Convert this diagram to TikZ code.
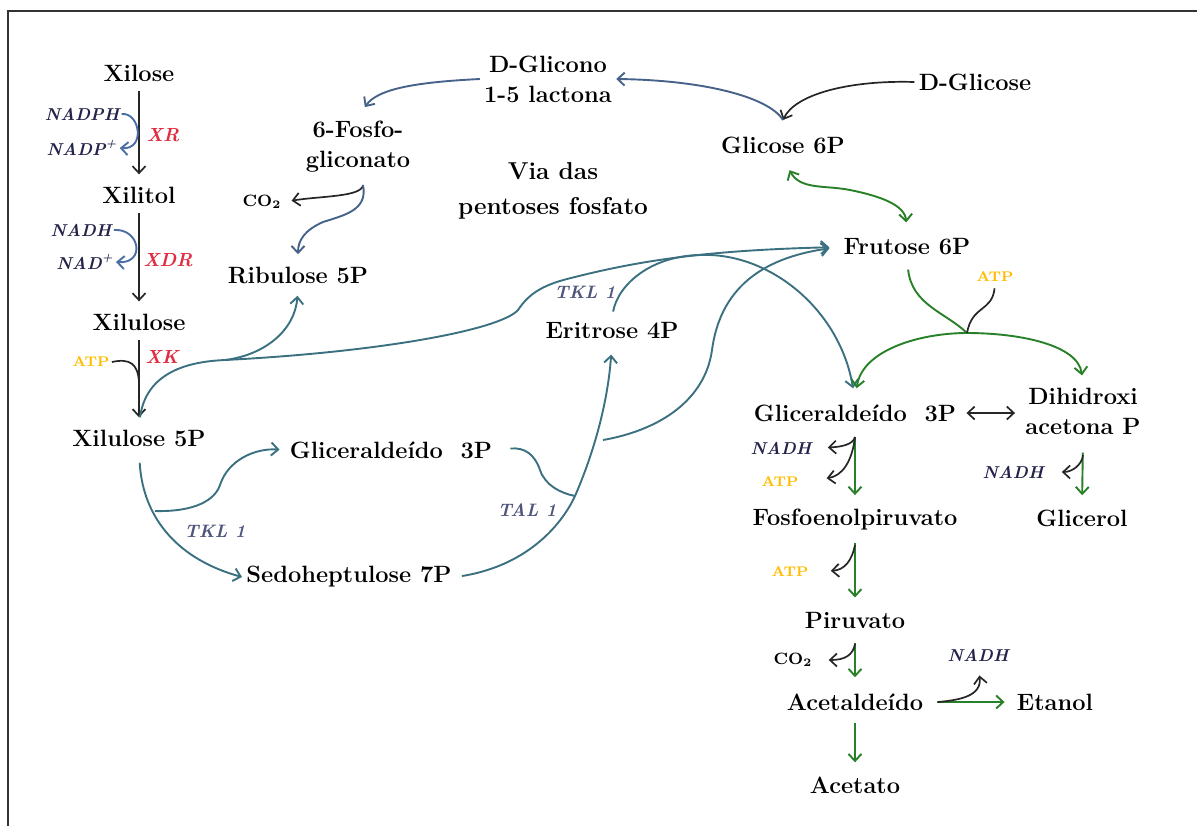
\documentclass[tikz,border=0pt]{standalone}
\usetikzlibrary{arrows.meta}
\definecolor{teal1}{RGB}{58,112,128}
\definecolor{blueg}{RGB}{70,98,138}
\definecolor{cofb}{RGB}{75,110,165}
\definecolor{grn}{RGB}{40,128,40}
\definecolor{redx}{RGB}{225,45,65}
\definecolor{atpc}{RGB}{255,188,0}
\definecolor{navy}{RGB}{35,35,75}
\definecolor{tkl}{RGB}{80,85,125}
\tikzset{
  m/.style={font=\fontsize{11.8}{15}\selectfont\bfseries, text=black, align=center, inner sep=2pt},
  cof/.style={font=\fontsize{8.6}{9}\selectfont\bfseries\itshape, text=navy, inner sep=1pt},
  enz/.style={font=\fontsize{9.5}{10}\selectfont\bfseries\itshape, text=redx, inner sep=1pt},
  atp/.style={font=\fontsize{7}{8}\selectfont\bfseries, text=atpc, inner sep=1pt},
  co/.style={font=\fontsize{8.2}{9}\selectfont\bfseries, text=black, inner sep=1pt},
  tk/.style={font=\fontsize{9}{10}\selectfont\bfseries\itshape, text=tkl, inner sep=1pt},
  bk/.style={draw=black!85, line width=0.85pt},
  tl/.style={draw=teal1, line width=0.95pt},
  bg/.style={draw=blueg, line width=0.95pt},
  cb/.style={draw=cofb, line width=0.95pt},
  gr/.style={draw=grn, line width=0.95pt},
  vv/.style={shorten <=2.5pt, shorten >=4pt},
  >={Straight Barb[length=3.5pt,width=6.5pt]}
}
\begin{document}
\begin{tikzpicture}[x=0.5pt,y=-0.5pt]
\useasboundingbox (0,0) rectangle (1197,826);
\draw[line width=1pt, black!80] (8,826) -- (8,11) -- (1197,11);

% main nodes
\node[m] (xilose) at (139,73) {Xilose};
\node[m] (xilitol) at (139,195) {Xilitol};
\node[m] (xilulose) at (139,322) {Xilulose};
\node[m] (x5p) at (139,438) {Xilulose 5P};
\node[m] (r5p) at (298,275) {Ribulose 5P};
\node[m] (fg) at (358,147) {6-Fosfo-\\gliconato};
\node[m] (dgl) at (548,79) {D-Glicono\\1-5 lactona};
\node[m] (dglc) at (975,82) {D-Glicose};
\node[m] (g6p) at (783,145) {Glicose 6P};
\node[m, font=\fontsize{12.2}{17.5}\selectfont\bfseries] (via) at (553,191) {Via das\\pentoses fosfato};
\node[m] (f6p) at (907,247) {Frutose 6P};
\node[m] (e4p) at (612,330) {Eritrose 4P};
\node[m] (g3pa) at (391,450) {Gliceraldeído~~3P};
\node[m] (s7p) at (349,577) {Sedoheptulose 7P};
\node[m] (g3p) at (855,413) {Gliceraldeído~~3P};
\node[m] (dhap) at (1083,411) {Dihidroxi\\acetona P};
\node[m] (pep) at (855,520) {Fosfoenolpiruvato};
\node[m] (pir) at (855,620) {Piruvato};
\node[m] (acal) at (855,702) {Acetaldeído};
\node[m] (etanol) at (1055,702) {Etanol};
\node[m] (acetato) at (855,785) {Acetato};
\node[m] (glicerol) at (1082,518) {Glicerol};

% small labels
\node[cof] (nadph) at (82,114) {NADPH};
\node[cof] (nadp) at (82,148) {NADP\textsuperscript{+}};
\node[enz] (xr) at (163,135) {XR};
\node[cof] (nadh1) at (81,230) {NADH};
\node[cof] (nad1) at (85,262) {NAD\textsuperscript{+}};
\node[enz] (xdr) at (168,260) {XDR};
\node[atp] (atp1) at (91,362) {ATP};
\node[enz] (xk) at (162,357) {XK};
\node[co] (co2a) at (262,202) {CO\textsubscript{2}};
\node[tk] (tkl1) at (585,292) {TKL 1};
\node[tk] (tkl2) at (215,531) {TKL 1};
\node[tk] (tal1) at (527,510) {TAL 1};
\node[atp] (atp2) at (995,277) {ATP};
\node[cof] (nadh2) at (781,448) {NADH};
\node[atp] (atp3) at (780,482) {ATP};
\node[atp] (atp4) at (790,572) {ATP};
\node[co] (co2b) at (793,660) {CO\textsubscript{2}};
\node[cof] (nadh4) at (978,655) {NADH};
\node[cof] (nadh3) at (1013,472) {NADH};

% junction coordinates
\coordinate (k1) at (139,382);
\coordinate (jg) at (783,120);
\coordinate (jf) at (363,185);
\coordinate (j1) at (225,360);
\coordinate (j2) at (575,496);
\coordinate (j3) at (603,440);
\coordinate (j4) at (155,511);
\coordinate (j5) at (967,333);
\coordinate (c1) at (855,437);
\coordinate (c3) at (855,545);
\coordinate (c4) at (855,644);
\coordinate (c5) at (938,702);
\coordinate (c6) at (1083,455);

% xylose pathway
\draw[bk,->,vv] (xilose) -- (xilitol);
\draw[bk,->,vv] (xilitol) -- (xilulose);
\draw[bk,->,vv] (xilulose) -- (x5p);
\draw[cb,->] (nadph.east) .. controls (140,112) and (146,150) .. (nadp.east);
\draw[cb,->] (nadh1.east) .. controls (140,228) and (146,264) .. (nad1.east);
\draw[bk] (atp1.east) .. controls (130,358) and (138,364) .. (k1);

% oxidative pentose phosphate
\draw[bk,->] (dglc.west) .. controls (850,80) and (795,94) .. (jg);
\draw[bg,->] (jg) .. controls (768,96) and (700,80) .. (dgl.east);
\draw[bg,->,shorten >=6pt] (dgl.west) .. controls (420,82) and (378,88) .. (fg.north);
\draw[bk,->,shorten >=4pt] (jf) .. controls (362,197) and (320,196) .. (co2a.east);
\draw[bg,->,shorten >=4pt] (jf) .. controls (368,210) and (345,215) .. (323,222) .. controls (305,230) and (298,240) .. (r5p.north);

% non-oxidative pentose phosphate
\draw[tl,->,shorten >=4pt] (j1) .. controls (265,355) and (295,330) .. (r5p.south);
\draw[tl,shorten >=4pt] (j1) .. controls (175,362) and (145,380) .. (x5p.north);
\draw[tl,->,shorten >=5pt] (j1) .. controls (380,352) and (500,330) .. (518,310) .. controls (530,292) and (545,284) .. (575,277) .. controls (650,258) and (720,250) .. (f6p.west);
\draw[tl,->,shorten >=6pt,shorten <=3pt] (e4p.north) .. controls (618,285) and (650,256) .. (700,255) .. controls (770,252) and (840,310) .. (g3p.north);
\draw[tl,->,shorten <=6pt] (x5p.south) .. controls (143,520) and (180,560) .. (s7p.west);
\draw[tl,->,shorten >=3pt] (j4) .. controls (195,512) and (215,500) .. (220,485) .. controls (228,460) and (255,448) .. (g3pa.west);
\draw[tl,->,shorten <=3pt,shorten >=6pt] (s7p.east) .. controls (530,565) and (563,522) .. (575,496) .. controls (595,450) and (608,400) .. (e4p.south);
\draw[tl,shorten <=7pt] (g3pa.east) .. controls (525,447) and (535,455) .. (540,470) .. controls (545,485) and (560,493) .. (j2);
\draw[tl,->,shorten >=5pt] (j3) .. controls (660,430) and (705,400) .. (712,350) .. controls (720,290) and (760,258) .. (f6p.west);

% glycolysis
\draw[gr,<->,shorten <=7pt,shorten >=6pt] (g6p.south) .. controls (800,190) and (825,185) .. (850,190) .. controls (880,196) and (905,205) .. (f6p.north);
\draw[gr,shorten <=5pt] (f6p.south) .. controls (912,305) and (945,312) .. (j5);
\draw[gr,->,shorten >=6pt] (j5) .. controls (920,333) and (862,350) .. (g3p.north);
\draw[gr,->,shorten >=4pt] (j5) .. controls (1020,333) and (1078,345) .. (dhap.north);
\draw[bk,shorten <=2pt] (atp2.south) .. controls (992,312) and (972,305) .. (j5);
\draw[bk,<->,shorten <=3pt,shorten >=3pt] (g3p.east) -- (g3p.east -| dhap.west);

\draw[gr,->,shorten <=6pt,shorten >=5pt] (g3p.south) -- (pep.north);
\draw[bk,->,shorten >=7pt] (c1) .. controls (853,445) and (840,447) .. (nadh2.east);
\draw[bk,->,shorten >=13pt] (c1) .. controls (852,462) and (842,476) .. (atp3.east);

\draw[gr,->,shorten <=4pt,shorten >=5pt] (pep.south) -- (pir.north);
\draw[bk,->,shorten >=10pt] (c3) .. controls (852,560) and (845,570) .. (atp4.east);

\draw[gr,->,shorten <=5pt,shorten >=6pt] (pir.south) -- (acal.north);
\draw[bk,->,shorten >=7pt] (c4) .. controls (853,655) and (845,660) .. (co2b.east);

\draw[gr,->,shorten <=5pt,shorten >=4pt] (acal.east) -- (etanol.west);
\draw[bk,->,shorten >=6pt] (c5) .. controls (960,700) and (982,696) .. (nadh4.south);

\draw[gr,->,shorten <=4pt,shorten >=5pt] (acal.south) -- (acetato.north);

\draw[gr,->,shorten <=7pt,shorten >=5pt] (dhap.south) -- (glicerol.north);
\draw[bk,->,shorten >=8pt] (c6) .. controls (1082,465) and (1072,472) .. (nadh3.east);
\end{tikzpicture}
\end{document}
